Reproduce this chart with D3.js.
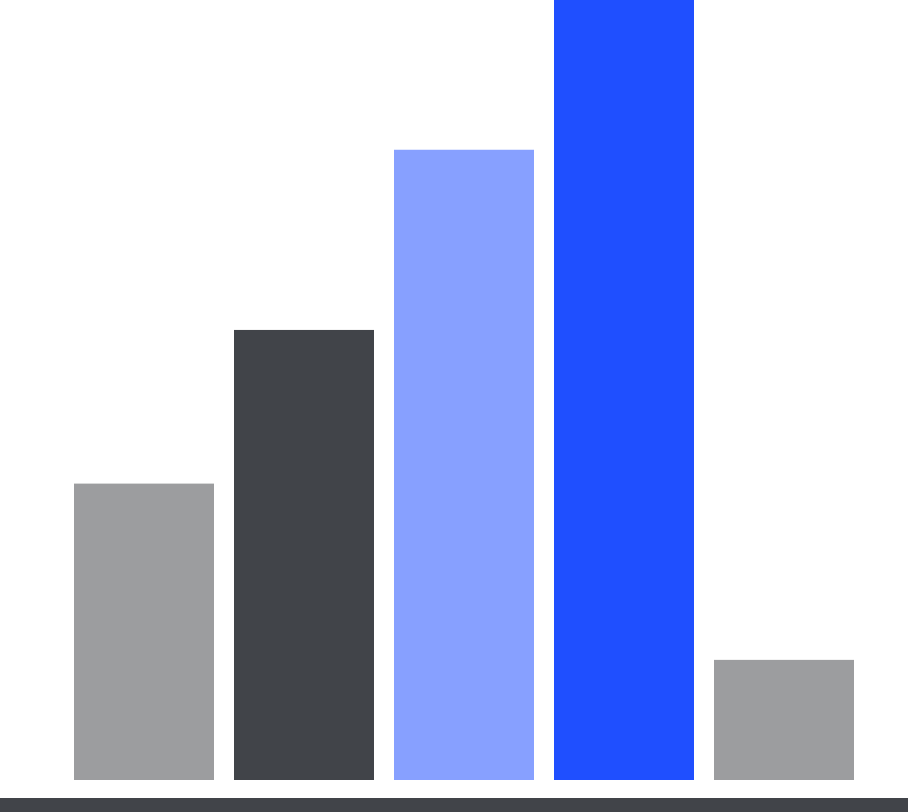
<!DOCTYPE html>
<html>
<head>
<meta charset="utf-8">
<script src="https://cdn.jsdelivr.net/npm/d3@7"></script>
<style>
  html, body { margin: 0; padding: 0; background: #fff; overflow: hidden; }
</style>
</head>
<body>
<div id="chart"></div>
<script>
// dati
var categories = ["A", "B", "C", "D", "E"];
var values = [38, 57.7, 80.8, 100, 15.4];
var barColors = ["#9c9d9f", "#414449", "#87a0ff", "#1f4fff", "#9c9d9f"];

var W = 908, H = 812;
var baseY = 780;

var svg = d3.select("#chart")
  .append("svg")
  .attr("width", W)
  .attr("height", H);

var x = d3.scaleBand()
  .domain(categories)
  .range([74, 854])
  .paddingInner(0.125)
  .paddingOuter(0);

var y = d3.scaleLinear()
  .domain([0, 100])
  .range([baseY, 0]);

// barre
svg.selectAll(".bar")
  .data(values)
  .enter()
  .append("rect")
  .attr("class", "bar")
  .attr("x", function(d, i){ return x(categories[i]); })
  .attr("y", function(d){ return y(d); })
  .attr("width", x.bandwidth())
  .attr("height", function(d){ return baseY - y(d); })
  .style("fill", function(d, i){ return barColors[i]; });

// striscia scura in basso
svg.append("rect")
  .attr("x", 0)
  .attr("y", 798)
  .attr("width", W)
  .attr("height", H - 798)
  .style("fill", "#414449");
</script>
</body>
</html>
